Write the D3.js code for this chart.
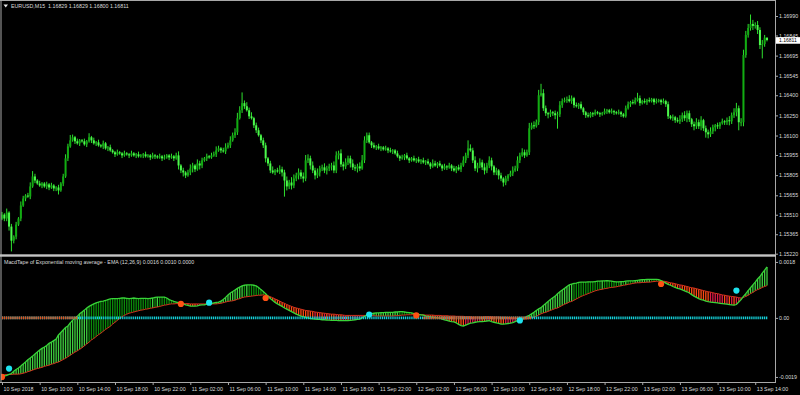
<!DOCTYPE html>
<html>
<head>
<meta charset="utf-8">
<script src="https://cdn.jsdelivr.net/npm/d3@7"></script>
<style>
  body { margin: 0; background: #000; }
  svg text { font-family: "Liberation Sans", Arial, sans-serif; fill: #dcdcdc; }
</style>
</head>
<body>
<div id="chart"></div>
<script>
// ---- data ----
const symbolTitle = 'EURUSD,M15';
const lastOHLC = [1.16829, 1.16829, 1.16800, 1.16811];
const indicatorTitle = 'MacdTape of Exponential moving average - EMA (12,26,9)';
const indicatorValues = [0.0016, 0.0010, 0.0000];

const firstOpen = 1.15480;
const closes = [
  1.15511,1.15482,1.15526,1.15422,1.15317,1.15347,1.15437,1.15482,1.15579,1.15631,
  1.15653,1.15646,1.15721,1.15795,1.15765,1.15743,1.15728,1.15743,1.15721,1.15736,
  1.15713,1.15728,1.15706,1.15713,1.15691,1.15743,1.15795,1.15930,1.16019,1.16064,
  1.16087,1.16057,1.16042,1.16064,1.16057,1.16034,1.16057,1.16087,1.16064,1.16042,
  1.16049,1.16027,1.16019,1.16042,1.16004,1.16012,1.15989,1.15975,1.15960,1.15975,
  1.15967,1.15952,1.15967,1.15960,1.15952,1.15967,1.15952,1.15960,1.15945,1.15952,
  1.15960,1.15945,1.15952,1.15937,1.15952,1.15945,1.15937,1.15945,1.15930,1.15937,
  1.15952,1.15937,1.15945,1.15930,1.15952,1.15877,1.15840,1.15825,1.15803,1.15825,
  1.15855,1.15877,1.15848,1.15892,1.15877,1.15915,1.15930,1.15945,1.15937,1.15952,
  1.15960,1.15989,1.16004,1.15989,1.15982,1.16012,1.16027,1.16064,1.16102,1.16124,
  1.16229,1.16288,1.16341,1.16318,1.16288,1.16243,1.16229,1.16176,1.16139,1.16102,
  1.16064,1.16027,1.15930,1.15892,1.15840,1.15825,1.15840,1.15833,1.15848,1.15825,
  1.15765,1.15721,1.15750,1.15728,1.15780,1.15803,1.15825,1.15795,1.15780,1.15915,
  1.15930,1.15877,1.15840,1.15803,1.15825,1.15855,1.15863,1.15840,1.15855,1.15870,
  1.15877,1.15840,1.15952,1.15967,1.15885,1.15870,1.15900,1.15930,1.15892,1.15863,
  1.15855,1.15870,1.15855,1.15915,1.16064,1.16102,1.16049,1.16027,1.16012,1.16019,
  1.16004,1.16012,1.15997,1.16004,1.15989,1.15982,1.15989,1.15967,1.15945,1.15930,
  1.15937,1.15952,1.15930,1.15915,1.15930,1.15915,1.15922,1.15907,1.15915,1.15900,
  1.15907,1.15892,1.15870,1.15892,1.15877,1.15892,1.15877,1.15855,1.15870,1.15863,
  1.15877,1.15855,1.15840,1.15863,1.15848,1.15877,1.15915,1.15952,1.16004,1.15989,
  1.15915,1.15855,1.15877,1.15900,1.15863,1.15840,1.15877,1.15915,1.15870,1.15825,
  1.15840,1.15803,1.15780,1.15750,1.15780,1.15803,1.15818,1.15840,1.15855,1.15915,
  1.15952,1.15975,1.15952,1.15975,1.16154,1.16176,1.16169,1.16199,1.16400,1.16415,
  1.16303,1.16266,1.16258,1.16273,1.16266,1.16251,1.16258,1.16326,1.16356,1.16363,
  1.16370,1.16356,1.16378,1.16326,1.16318,1.16333,1.16303,1.16273,1.16251,1.16243,
  1.16266,1.16258,1.16273,1.16266,1.16258,1.16266,1.16281,1.16288,1.16273,1.16281,
  1.16273,1.16266,1.16273,1.16258,1.16243,1.16303,1.16333,1.16348,1.16341,1.16363,
  1.16378,1.16341,1.16356,1.16348,1.16363,1.16356,1.16370,1.16348,1.16356,1.16363,
  1.16348,1.16356,1.16333,1.16243,1.16229,1.16236,1.16214,1.16206,1.16221,1.16251,
  1.16229,1.16266,1.16221,1.16184,1.16169,1.16199,1.16169,1.16214,1.16154,1.16124,
  1.16109,1.16131,1.16161,1.16176,1.16169,1.16191,1.16206,1.16199,1.16214,1.16206,
  1.16251,1.16273,1.16303,1.16199,1.16199,1.16699,1.16849,1.16901,1.16931,1.16916,
  1.16923,1.16886,1.16774,1.16781,1.16829,1.16811
];
// wick lengths beyond the candle body, in pips
const upWick = [
  2,1,3,1,2,1,2,1,3,2, 1,2,3,4,2,1,2,1,1,2, 1,2,1,1,2,1,2,3,2,4, 2,1,2,1,1,2,1,3,1,2,
  1,2,1,2,1,1,2,1,1,2, 1,1,2,1,1,2,1,1,2,1, 1,2,1,1,2,1,1,2,1,2, 1,1,2,1,2,3,1,2,1,2,
  3,2,1,3,2,2,1,2,1,2, 2,3,2,1,2,3,2,3,2,3, 4,3,8,2,3,2,3,1,2,2, 1,2,2,1,2,3,1,2,3,2,
  2,3,2,4,3,2,3,2,3,4, 3,2,3,2,3,2,2,3,2,2, 2,3,3,2,3,2,3,2,2,3, 2,2,3,4,3,2,2,1,2,1,
  2,1,1,2,1,2,1,1,2,1, 2,1,2,1,1,2,1,2,1,2, 1,2,1,3,2,1,2,1,2,1, 2,1,2,1,2,2,3,2,6,3,
  2,3,2,3,2,3,2,3,2,1, 2,1,2,1,2,1,2,3,2,3, 2,3,2,2,4,2,3,2,4,7, 3,2,1,2,1,2,2,3,2,2,
  2,3,2,1,2,1,2,1,1,2, 1,1,2,1,1,1,2,1,1,2, 1,1,2,1,1,2,2,1,2,2, 4,2,1,2,1,2,1,1,2,1,
  1,2,1,2,1,2,1,2,3,2, 3,2,2,1,2,3,2,3,1,2, 2,3,2,1,2,1,2,1,2,3, 2,3,4,2,3,4,3,3,7,3,
  2,3,2,3,2,0
];
const downWick = [
  1,2,2,3,8,2,2,1,2,1, 2,1,2,1,2,1,1,2,1,2, 2,1,2,2,3,1,2,1,2,1, 1,2,1,2,1,1,2,1,2,1,
  2,1,1,2,1,2,1,1,2,1, 1,2,1,1,2,1,1,2,1,1, 2,1,1,2,1,2,1,1,2,1, 1,2,1,2,1,3,2,3,2,1,
  2,3,2,1,3,2,1,2,1,1, 1,2,1,2,1,2,1,2,1,2, 2,1,2,2,1,2,1,2,2,1, 2,2,3,2,2,1,2,1,2,3,
  12,3,2,3,2,2,3,2,3,2, 2,3,2,3,2,3,2,2,3,2, 3,2,2,3,2,3,2,2,3,2, 2,3,2,1,2,2,1,2,1,2,
  1,2,1,1,2,1,2,1,1,2, 1,2,1,2,1,1,2,1,2,1, 2,1,2,1,1,2,1,2,1,2, 1,2,1,2,1,2,1,2,2,1,
  2,2,3,2,2,3,2,2,3,2, 2,3,2,3,2,2,1,2,1,2, 2,1,2,1,2,1,2,1,2,1, 2,2,3,2,2,3,10,2,2,1,
  2,1,2,2,1,2,1,2,2,1, 1,2,1,1,2,1,1,2,1,1, 2,1,1,2,1,1,1,2,1,1, 1,2,1,1,2,1,1,2,1,1,
  2,1,2,2,1,2,2,1,2,2, 2,3,2,2,3,2,2,3,2,4, 3,2,2,3,2,2,1,2,2,3, 2,2,3,6,3,3,2,2,2,3,
  2,3,3,10,2,1
];

const macd = [
  -0.00187,-0.00187,-0.00185,-0.00182,-0.00179,-0.00172,-0.00166,-0.00161,-0.00155,-0.00148,
  -0.00142,-0.00135,-0.00129,-0.00123,-0.00116,-0.00110,-0.00103,-0.00098,-0.00094,-0.00089,
  -0.00082,-0.00078,-0.00073,-0.00068,-0.00055,-0.00047,-0.00039,-0.00031,-0.00026,-0.00016,
  -0.00008,0.00000,0.00005,0.00013,0.00019,0.00025,0.00032,0.00037,0.00041,0.00045,
  0.00048,0.00051,0.00053,0.00054,0.00056,0.00059,0.00061,0.00062,0.00062,0.00062,
  0.00063,0.00064,0.00064,0.00063,0.00062,0.00063,0.00064,0.00063,0.00062,0.00063,
  0.00063,0.00063,0.00062,0.00063,0.00064,0.00066,0.00067,0.00067,0.00067,0.00067,
  0.00064,0.00059,0.00056,0.00053,0.00051,0.00049,0.00047,0.00045,0.00042,0.00040,
  0.00038,0.00038,0.00038,0.00039,0.00041,0.00042,0.00042,0.00044,0.00045,0.00046,
  0.00048,0.00050,0.00051,0.00054,0.00059,0.00066,0.00074,0.00080,0.00085,0.00090,
  0.00095,0.00099,0.00103,0.00105,0.00106,0.00106,0.00106,0.00105,0.00103,0.00098,
  0.00091,0.00085,0.00078,0.00070,0.00062,0.00056,0.00050,0.00045,0.00041,0.00037,
  0.00032,0.00028,0.00024,0.00020,0.00016,0.00012,0.00009,0.00006,0.00004,0.00001,
  0.00000,-0.00002,-0.00003,-0.00004,-0.00005,-0.00005,-0.00006,-0.00006,-0.00007,-0.00007,
  -0.00008,-0.00008,-0.00008,-0.00009,-0.00009,-0.00009,-0.00009,-0.00009,-0.00008,-0.00007,
  -0.00006,-0.00005,-0.00004,0.00000,0.00005,0.00009,0.00012,0.00014,0.00015,0.00016,
  0.00016,0.00017,0.00017,0.00018,0.00018,0.00018,0.00018,0.00019,0.00019,0.00020,
  0.00020,0.00019,0.00018,0.00017,0.00016,0.00014,0.00013,0.00011,0.00010,0.00009,
  0.00006,0.00005,0.00003,0.00002,0.00001,0.00000,-0.00001,-0.00004,-0.00006,-0.00008,
  -0.00010,-0.00012,-0.00013,-0.00016,-0.00021,-0.00025,-0.00026,-0.00023,-0.00020,-0.00017,
  -0.00016,-0.00014,-0.00013,-0.00012,-0.00012,-0.00011,-0.00010,-0.00009,-0.00012,-0.00014,
  -0.00016,-0.00018,-0.00020,-0.00020,-0.00019,-0.00018,-0.00017,-0.00015,-0.00012,-0.00009,
  -0.00007,-0.00004,0.00000,0.00005,0.00008,0.00013,0.00018,0.00024,0.00029,0.00033,
  0.00040,0.00046,0.00053,0.00059,0.00065,0.00070,0.00078,0.00084,0.00090,0.00095,
  0.00101,0.00106,0.00109,0.00111,0.00112,0.00114,0.00115,0.00115,0.00115,0.00116,
  0.00116,0.00116,0.00117,0.00118,0.00118,0.00119,0.00119,0.00120,0.00119,0.00118,
  0.00117,0.00116,0.00116,0.00117,0.00117,0.00118,0.00119,0.00119,0.00119,0.00120,
  0.00121,0.00122,0.00123,0.00123,0.00124,0.00124,0.00124,0.00124,0.00124,0.00123,
  0.00120,0.00116,0.00112,0.00108,0.00105,0.00101,0.00098,0.00095,0.00093,0.00090,
  0.00087,0.00084,0.00080,0.00075,0.00070,0.00066,0.00062,0.00059,0.00057,0.00054,
  0.00052,0.00051,0.00050,0.00049,0.00048,0.00047,0.00046,0.00045,0.00044,0.00043,
  0.00042,0.00041,0.00043,0.00051,0.00059,0.00069,0.00078,0.00088,0.00097,0.00106,
  0.00115,0.00125,0.00133,0.00144,0.00154,0.00164
];
const signal = [
  -0.00184,-0.00183,-0.00182,-0.00182,-0.00182,-0.00181,-0.00181,-0.00181,-0.00180,-0.00178,
  -0.00176,-0.00173,-0.00171,-0.00168,-0.00165,-0.00163,-0.00161,-0.00159,-0.00156,-0.00154,
  -0.00152,-0.00149,-0.00147,-0.00144,-0.00142,-0.00138,-0.00134,-0.00130,-0.00125,-0.00120,
  -0.00115,-0.00110,-0.00106,-0.00101,-0.00096,-0.00090,-0.00084,-0.00078,-0.00071,-0.00066,
  -0.00060,-0.00054,-0.00049,-0.00043,-0.00037,-0.00032,-0.00027,-0.00020,-0.00014,-0.00008,
  -0.00002,0.00004,0.00008,0.00012,0.00015,0.00017,0.00019,0.00021,0.00023,0.00025,
  0.00026,0.00028,0.00029,0.00031,0.00032,0.00034,0.00035,0.00037,0.00039,0.00041,
  0.00042,0.00044,0.00045,0.00045,0.00046,0.00046,0.00046,0.00046,0.00046,0.00046,
  0.00045,0.00045,0.00045,0.00045,0.00045,0.00045,0.00045,0.00045,0.00045,0.00045,
  0.00045,0.00045,0.00046,0.00047,0.00049,0.00051,0.00053,0.00054,0.00055,0.00057,
  0.00060,0.00062,0.00065,0.00067,0.00068,0.00069,0.00070,0.00071,0.00072,0.00073,
  0.00073,0.00074,0.00073,0.00071,0.00068,0.00065,0.00061,0.00058,0.00054,0.00050,
  0.00047,0.00043,0.00040,0.00037,0.00034,0.00032,0.00030,0.00028,0.00026,0.00024,
  0.00023,0.00022,0.00021,0.00019,0.00018,0.00017,0.00016,0.00015,0.00014,0.00013,
  0.00012,0.00012,0.00011,0.00010,0.00010,0.00009,0.00008,0.00008,0.00008,0.00008,
  0.00008,0.00008,0.00008,0.00008,0.00008,0.00008,0.00007,0.00007,0.00007,0.00006,
  0.00006,0.00006,0.00006,0.00006,0.00006,0.00006,0.00006,0.00007,0.00007,0.00008,
  0.00009,0.00009,0.00010,0.00010,0.00010,0.00011,0.00011,0.00010,0.00010,0.00010,
  0.00009,0.00009,0.00009,0.00009,0.00008,0.00008,0.00008,0.00007,0.00007,0.00007,
  0.00006,0.00006,0.00006,0.00005,0.00005,0.00005,0.00005,0.00004,0.00004,0.00004,
  0.00003,0.00003,0.00003,0.00003,0.00003,0.00004,0.00004,0.00004,0.00004,0.00003,
  0.00003,0.00003,0.00002,0.00002,0.00002,0.00001,0.00001,0.00000,-0.00001,-0.00002,
  -0.00003,-0.00004,-0.00004,-0.00003,-0.00002,0.00000,0.00002,0.00005,0.00009,0.00013,
  0.00016,0.00018,0.00021,0.00024,0.00027,0.00030,0.00032,0.00036,0.00040,0.00044,
  0.00047,0.00051,0.00053,0.00057,0.00061,0.00065,0.00069,0.00072,0.00075,0.00078,
  0.00081,0.00084,0.00087,0.00089,0.00091,0.00092,0.00094,0.00095,0.00097,0.00098,
  0.00099,0.00100,0.00102,0.00103,0.00105,0.00106,0.00108,0.00109,0.00111,0.00112,
  0.00113,0.00113,0.00114,0.00114,0.00115,0.00115,0.00116,0.00117,0.00118,0.00118,
  0.00119,0.00118,0.00117,0.00115,0.00113,0.00112,0.00110,0.00108,0.00106,0.00105,
  0.00103,0.00101,0.00099,0.00097,0.00096,0.00094,0.00092,0.00090,0.00088,0.00086,
  0.00084,0.00083,0.00081,0.00079,0.00078,0.00076,0.00074,0.00073,0.00071,0.00070,
  0.00069,0.00068,0.00067,0.00065,0.00064,0.00066,0.00069,0.00073,0.00078,0.00082,
  0.00087,0.00091,0.00094,0.00098,0.00101,0.00104
];

// cross markers (bar index + value where the dot sits)
const crossUpBar = [3, 88, 156, 220, 312];
const crossUpValue = [-0.00163, 0.00049, 0.00011, -0.00008, 0.00088];
const crossDownBar = [0, 76, 112, 176, 280];
const crossDownValue = [-0.00190, 0.00045, 0.00064, 0.00008, 0.00109];

// bar ranges where the zero tape is drawn in the "down" colour
const zeroDownFrom = [0, 179];
const zeroDownTo = [32, 225];

const priceTicks = [1.16990, 1.16845, 1.16695, 1.16545, 1.16400, 1.16250, 1.16100,
                    1.15955, 1.15805, 1.15655, 1.15510, 1.15365, 1.15220];
const macdTicks = [0.0018, 0, -0.0019];
const timeLabels = ['10 Sep 2018', '10 Sep 10:00', '10 Sep 14:00', '10 Sep 18:00', '10 Sep 22:00',
  '11 Sep 02:00', '11 Sep 06:00', '11 Sep 10:00', '11 Sep 14:00', '11 Sep 18:00', '11 Sep 22:00',
  '12 Sep 02:00', '12 Sep 06:00', '12 Sep 10:00', '12 Sep 14:00', '12 Sep 18:00', '12 Sep 22:00',
  '13 Sep 02:00', '13 Sep 06:00', '13 Sep 10:00', '13 Sep 14:00'];
const barsPerLabel = 16;

// ---- layout ----
const W = 800, H = 395;
const axisX = 775;
const mainBottom = 254, indTop = 257, indBottom = 382;
const pip = 0.0001;
const frameColor = '#a8a8a8';
const fontSize = '5.3px';

const svg = d3.select('#chart').append('svg')
  .attr('width', W)
  .attr('height', H)
  .style('display', 'block')
  .style('background', '#000');

const defs = svg.append('defs');
defs.append('clipPath').attr('id', 'clipMain')
  .append('rect').attr('x', 1).attr('y', 1).attr('width', axisX - 1).attr('height', mainBottom - 1);
defs.append('clipPath').attr('id', 'clipInd')
  .append('rect').attr('x', 1).attr('y', indTop).attr('width', axisX - 1).attr('height', indBottom - indTop);

const x = d3.scaleLinear().domain([0, closes.length - 1]).range([2, 767]);
const yPrice = d3.scaleLinear().domain([1.15220, 1.16990]).range([253.7, 16]);
const yMacd = d3.scaleLinear().domain([-0.0019, 0.0018]).range([376.95, 261.95]);

// ---- candles ----
const bars = closes.map((c, i) => {
  const o = i ? closes[i - 1] : firstOpen;
  return {
    i: i, o: o, c: c,
    h: Math.max(o, c) + upWick[i] * pip,
    l: Math.min(o, c) - downWick[i] * pip
  };
});

const main = svg.append('g').attr('clip-path', 'url(#clipMain)');

main.selectAll('line.wick')
  .data(bars)
  .enter()
  .append('line')
  .attr('class', 'wick')
  .attr('x1', d => x(d.i))
  .attr('x2', d => x(d.i))
  .attr('y1', d => yPrice(d.h))
  .attr('y2', d => yPrice(d.l))
  .attr('stroke', '#2ee02e')
  .attr('stroke-width', 1);

main.selectAll('rect.body')
  .data(bars)
  .enter()
  .append('rect')
  .attr('class', 'body')
  .attr('x', d => x(d.i) - 1)
  .attr('width', 2)
  .attr('y', d => yPrice(Math.max(d.o, d.c)))
  .attr('height', d => Math.max(1, Math.abs(yPrice(d.o) - yPrice(d.c))))
  .attr('fill', d => d.c >= d.o ? '#12ac12' : '#4cf84c');

// ---- indicator ----
const ind = svg.append('g').attr('clip-path', 'url(#clipInd)');

function tapeColor(i) {
  const hist = macd[i] - signal[i];
  const prev = i ? macd[i - 1] - signal[i - 1] : hist;
  if (hist >= 0) return hist >= prev ? '#3fd03f' : '#0a8c0a';
  return hist <= prev ? '#ff4a12' : '#dc1a46';
}

ind.selectAll('line.tape')
  .data(macd)
  .enter()
  .append('line')
  .attr('class', 'tape')
  .attr('x1', (d, i) => x(i))
  .attr('x2', (d, i) => x(i))
  .attr('y1', d => yMacd(d))
  .attr('y2', (d, i) => yMacd(signal[i]))
  .attr('stroke', (d, i) => tapeColor(i))
  .attr('stroke-width', 1.3);

const lineGen = d3.line().x((d, i) => x(i)).y(d => yMacd(d));

ind.append('path')
  .datum(signal)
  .attr('d', lineGen)
  .attr('fill', 'none')
  .attr('stroke', '#d2321e')
  .attr('stroke-width', 1);

ind.append('path')
  .datum(macd)
  .attr('d', lineGen)
  .attr('fill', 'none')
  .attr('stroke', '#38d438')
  .attr('stroke-width', 1.3);

// zero tape
ind.append('line')
  .attr('x1', x(0))
  .attr('x2', x(closes.length - 1) + 1)
  .attr('y1', yMacd(0))
  .attr('y2', yMacd(0))
  .attr('stroke', '#14d0d8')
  .attr('stroke-width', 2.6)
  .attr('stroke-dasharray', '1.2 0.7');

ind.selectAll('line.zeroDown')
  .data(zeroDownFrom)
  .enter()
  .append('line')
  .attr('class', 'zeroDown')
  .attr('x1', d => x(d))
  .attr('x2', (d, k) => x(zeroDownTo[k]))
  .attr('y1', yMacd(0))
  .attr('y2', yMacd(0))
  .attr('stroke', '#e4501e')
  .attr('stroke-width', 2.6)
  .attr('stroke-dasharray', '1.2 0.7');

ind.selectAll('circle.up')
  .data(crossUpBar)
  .enter()
  .append('circle')
  .attr('class', 'up')
  .attr('cx', d => x(d))
  .attr('cy', (d, k) => yMacd(crossUpValue[k]))
  .attr('r', 3.1)
  .attr('fill', '#1ee2ee');

ind.selectAll('circle.down')
  .data(crossDownBar)
  .enter()
  .append('circle')
  .attr('class', 'down')
  .attr('cx', d => x(d))
  .attr('cy', (d, k) => yMacd(crossDownValue[k]))
  .attr('r', 3.1)
  .attr('fill', '#ff5214');

// ---- frame ----
const frame = svg.append('g').attr('stroke', frameColor).attr('fill', 'none');
frame.append('line').attr('x1', 0).attr('x2', axisX + 1).attr('y1', 0.5).attr('y2', 0.5);
frame.append('line').attr('x1', 1).attr('x2', 1).attr('y1', 0).attr('y2', indBottom);
frame.append('line').attr('x1', axisX + 0.5).attr('x2', axisX + 0.5).attr('y1', 0).attr('y2', indBottom + 0.5);
frame.append('line').attr('x1', 0).attr('x2', axisX + 1).attr('y1', indBottom + 0.5).attr('y2', indBottom + 0.5);
svg.append('rect')
  .attr('x', 0).attr('y', mainBottom + 0.3)
  .attr('width', axisX + 1).attr('height', 2.4)
  .attr('fill', '#c4c4c4');

// ---- axes ----
function styleAxis(g) {
  g.select('.domain').remove();
  g.selectAll('.tick line').attr('stroke', frameColor);
  g.selectAll('.tick text')
    .attr('fill', '#dcdcdc')
    .style('font-size', fontSize)
    .style('font-family', '"Liberation Sans", Arial, sans-serif');
}

svg.append('g')
  .attr('transform', `translate(${axisX}, 0)`)
  .call(d3.axisRight(yPrice).tickValues(priceTicks).tickSize(3).tickPadding(1)
    .tickFormat(d => d.toFixed(5)))
  .call(styleAxis);

svg.append('g')
  .attr('transform', `translate(${axisX}, 0)`)
  .call(d3.axisRight(yMacd).tickValues(macdTicks).tickSize(3).tickPadding(1)
    .tickFormat(d => d === 0 ? '0.00' : d.toFixed(4)))
  .call(styleAxis);

svg.append('g')
  .attr('transform', `translate(0, ${indBottom})`)
  .call(d3.axisBottom(x)
    .tickValues(timeLabels.map((t, k) => k * barsPerLabel))
    .tickSize(3).tickPadding(2)
    .tickFormat((d, k) => timeLabels[k]))
  .call(styleAxis)
  .call(g => g.selectAll('.tick text').attr('text-anchor', 'start').attr('dx', 1));

// current price tag, sits just under the 1.16845 label
const lastClose = lastOHLC[3];
svg.append('rect')
  .attr('x', axisX + 1).attr('y', yPrice(lastClose) - 2.9)
  .attr('width', W - axisX - 1).attr('height', 6.6)
  .attr('fill', '#ffffff');
svg.append('text')
  .attr('x', axisX + 4).attr('y', yPrice(lastClose) + 0.4)
  .attr('dy', '0.35em')
  .style('font-size', '5px')
  .style('fill', '#000')
  .text(lastClose.toFixed(5));

// ---- titles ----
svg.append('path')
  .attr('d', 'M3.5,4.5 L8,4.5 L5.75,7.5 Z')
  .attr('fill', '#e8e8e8');
svg.append('text')
  .attr('x', 11).attr('y', 8.3)
  .style('font-size', fontSize)
  .style('white-space', 'pre')
  .text(`${symbolTitle}  ${lastOHLC.map(v => v.toFixed(5)).join(' ')}`);

svg.append('text')
  .attr('x', 4).attr('y', 264)
  .style('font-size', fontSize)
  .text(`${indicatorTitle} ${indicatorValues.map(v => v.toFixed(4)).join(' ')}`);
</script>
</body>
</html>
